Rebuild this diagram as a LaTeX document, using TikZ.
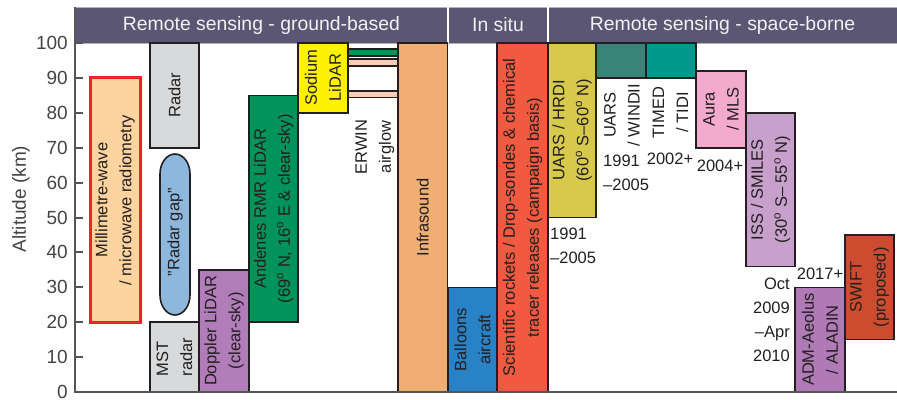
\documentclass[tikz,border=0pt]{standalone}
\usepackage{fontspec}
\setmainfont{Liberation Sans}
\definecolor{headbg}{HTML}{5A5673}
\definecolor{headtxt}{HTML}{F2F2F2}
\definecolor{axis}{HTML}{555555}
\definecolor{axtxt}{HTML}{444444}
\definecolor{txt}{HTML}{231F20}
\definecolor{edge}{HTML}{231F20}
\definecolor{peach}{HTML}{FDD3A0}
\definecolor{mmred}{HTML}{EE2424}
\definecolor{greybox}{HTML}{D8D9DB}
\definecolor{gapblue}{HTML}{8DB7DC}
\definecolor{dopp}{HTML}{B07DB9}
\definecolor{andgreen}{HTML}{00945A}
\definecolor{sodium}{HTML}{FFF200}
\definecolor{erpink}{HTML}{FBCDB9}
\definecolor{infra}{HTML}{F0AE72}
\definecolor{balloon}{HTML}{2A82C6}
\definecolor{rocket}{HTML}{F15A40}
\definecolor{hrdi}{HTML}{D6C94C}
\definecolor{windii}{HTML}{3A8378}
\definecolor{timed}{HTML}{00998C}
\definecolor{aura}{HTML}{F4AACE}
\definecolor{smiles}{HTML}{C8A0CC}
\definecolor{adm}{HTML}{B07AB6}
\definecolor{swift}{HTML}{CC4C30}
\newcommand\lblfont{\fontsize{16.5}{24}\selectfont}
\newcommand\tickfont{\fontsize{19}{22}\selectfont}
\newcommand\headfont{\fontsize{19.4}{22}\selectfont}
\newcommand\dg{\textsuperscript{o}}
\begin{document}
\begin{tikzpicture}[x=1pt,y=-1pt,
  box/.style={draw=edge, line width=1.6pt, inner sep=0pt, rotate=90, align=center, font=\lblfont, text=txt},
  plainbox/.style={draw=edge, line width=1.6pt, inner sep=0pt},
  lbl/.style={inner sep=0pt, font=\lblfont, text=txt, align=center},
  rlbl/.style={lbl, rotate=90},
  tickmark/.style={draw=axis, line width=2pt},
  ticklbl/.style={inner sep=0pt, anchor=east, font=\tickfont, text=axtxt},
  head/.style={inner sep=0pt, font=\headfont, text=headtxt},
]
\useasboundingbox (0,0) rectangle (897,399);

% header
\node[fill=headbg, draw=gray!60, line width=0.8pt, minimum width=822, minimum height=36, inner sep=0pt, anchor=north west] (header) at (75,7) {};
\coordinate (d1t) at (448,7); \coordinate (d1b) at (448,43);
\coordinate (d2t) at (548,7); \coordinate (d2b) at (548,43);
\draw[white, line width=2pt] (d1t) -- (d1b);
\draw[white, line width=2pt] (d2t) -- (d2b);
\node[head] (h1) at (261.5,25) {Remote sensing - ground-based};
\node[head] (h2) at (498,25) {In situ};
\node[head] (h3) at (722.5,25) {Remote sensing - space-borne};

% ground-based
\node[box, fill=peach, draw=mmred, line width=3pt, minimum width=244.3, minimum height=50] (mmw) at (115,200) {Millimetre-wave\\/ microwave radiometry};
\node[box, fill=greybox, minimum width=104.7, minimum height=49] (radar) at (174.5,95.35) {Radar};
\draw[draw=edge, fill=gapblue, line width=1.6pt] (160,174) -- (160,295) arc[start angle=180, end angle=0, x radius=15, y radius=20] -- (190,174) arc[start angle=0, end angle=-180, x radius=15, y radius=20] -- cycle;
\node[rlbl] (gap) at (175,232) {\symbol{34}Radar gap\symbol{34}};
\node[box, fill=greybox, minimum width=69.8, minimum height=49, align=left] (mst) at (174.5,357.1) {MST\\radar};
\node[box, fill=dopp, minimum width=122.15, minimum height=50] (dopp) at (224,330.9) {Doppler LiDAR\\(clear-sky)};
\node[box, fill=andgreen, minimum width=226.85, minimum height=49] (andenes) at (273.5,208.8) {Andenes RMR LiDAR\\(69\dg\ N, 16\dg\ E \& clear-sky)};
\node[box, fill=sodium, minimum width=69.8, minimum height=50] (sodium) at (323,77.9) {Sodium\\LiDAR};
\node[plainbox, fill=andgreen, minimum width=50, minimum height=6.5] (er1) at (373,52.5) {};
\node[plainbox, fill=erpink, minimum width=50, minimum height=7] (er2) at (373,62.5) {};
\node[plainbox, fill=erpink, minimum width=50, minimum height=6.5] (er3) at (373,94.25) {};
\node[rlbl] (erwin) at (375,147) {ERWIN\\airglow};
\node[box, fill=infra, minimum width=349, minimum height=49.5] (infra) at (422.75,217.5) {Infrasound};

% in situ
\node[box, fill=balloon, minimum width=104.7, minimum height=49] (balloons) at (472.5,339.65) {Balloons\\aircraft};
\node[box, fill=rocket, minimum width=349, minimum height=51] (rockets) at (522.5,217.5) {Scientific rockets / Drop-sondes \& chemical\\tracer releases (campaign basis)};

% space-borne
\node[box, fill=hrdi, minimum width=174.5, minimum height=48] (hrdi) at (572,130.25) {UARS / HRDI\\(60\dg\ S--60\dg\ N)};
\node[lbl, align=left, anchor=west] (hrdiy) at (550,245.5) {1991\\--2005};
\node[plainbox, fill=windii, minimum width=50, minimum height=34.9] (windii) at (621,60.45) {};
\node[rlbl] (windiil) at (622,115) {UARS\\/ WINDII};
\node[lbl, align=left, anchor=west] (windiiy) at (603,172.8) {1991\\--2005};
\node[plainbox, fill=timed, minimum width=50, minimum height=34.9] (timed) at (671,60.45) {};
\node[rlbl] (timedl) at (670.5,112.5) {TIMED\\/ TIDI};
\node[lbl] (timedy) at (670,159) {2002+};
\node[box, fill=aura, minimum width=76.8, minimum height=50] (aura) at (721,109.3) {Aura\\/ MLS};
\node[lbl] (auray) at (720,166) {2004+};
\node[box, fill=smiles, minimum width=153.6, minimum height=49] (smiles) at (770.5,189.6) {ISS / SMILES\\(30\dg\ S-- 55\dg\ N)};
\node[lbl, align=right, anchor=east] (smilesy) at (790,319.5) {Oct\\2009\\--Apr\\2010};
\node[box, fill=adm, minimum width=104.7, minimum height=50] (adm) at (820,339.65) {ADM-Aeolus\\/ ALADIN};
\node[lbl] (admy) at (820,274) {2017+};
\node[box, fill=swift, minimum width=104.7, minimum height=49] (swift) at (869.5,287.3) {SWIFT\\(proposed)};

% axes
\foreach \v in {0,10,...,100} {
  \pgfmathsetmacro\yy{392-3.49*\v}
  \coordinate (ta\v) at (75,\yy);
  \coordinate (tb\v) at (83,\yy);
  \draw[tickmark] (ta\v) -- (tb\v);
  \node[ticklbl] (tl\v) at (68,\yy) {\v};
}
\coordinate (axtop) at (75,7);
\coordinate (axorig) at (75,392);
\coordinate (axright) at (897,392);
\draw[draw=axis, line width=2.5pt] (axtop) -- (axorig) -- (axright);
\node[rotate=90, inner sep=0pt, font=\tickfont, text=axtxt] (ylab) at (21,199) {Altitude (km)};
\end{tikzpicture}
\end{document}
